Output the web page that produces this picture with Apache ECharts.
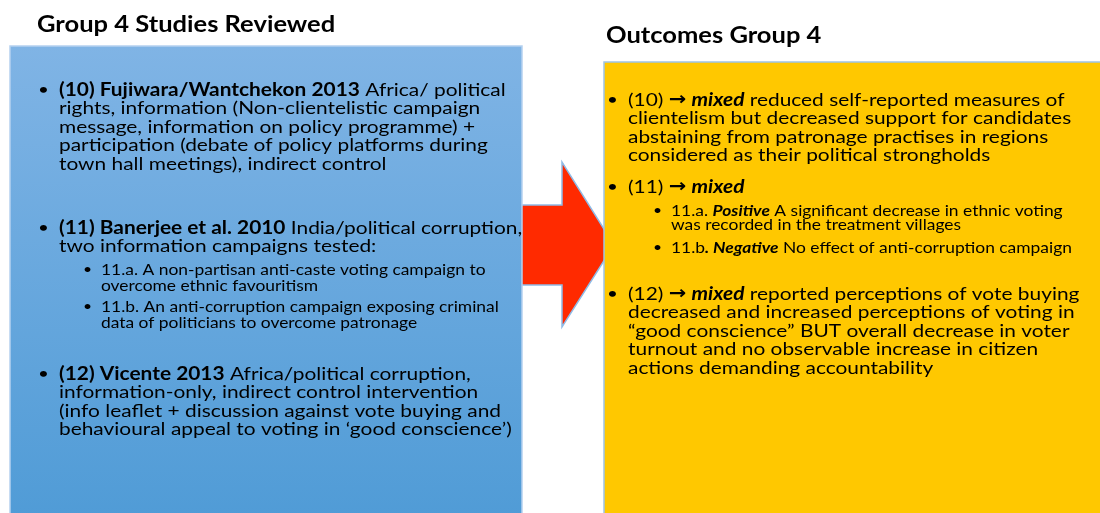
<!DOCTYPE html>
<html><head><meta charset="utf-8">
<script src="https://cdn.jsdelivr.net/npm/echarts@6/dist/echarts.min.js"></script>
<style>html,body{margin:0;padding:0;background:#fff}#c{width:1100px;height:513px}</style>
</head><body><div id="c"></div>
<script>
const leftTitle = 'Group 4 Studies Reviewed';
const rightTitle = 'Outcomes Group 4';
const study10 = ['{b|(10) Fujiwara/Wantchekon 2013} Africa/ political', 'rights, information (Non-clientelistic campaign', 'message, information on policy programme) +', 'participation (debate of policy platforms during', 'town hall meetings), indirect control'];
const study11 = ['{b|(11) Banerjee et al. 2010} India/political corruption,', 'two information campaigns tested:'];
const study11a = ['11.a. A non-partisan anti-caste voting campaign to', 'overcome ethnic favouritism'];
const study11b = ['11.b. An anti-corruption campaign exposing criminal', 'data of politicians to overcome patronage'];
const study12 = ['{b|(12) Vicente 2013} Africa/political corruption,', 'information-only, indirect control intervention', '(info leaflet + discussion against vote buying and', 'behavioural appeal to voting in \u2018good conscience\u2019)'];
const outcome10 = ['(10) {a|\u2192} {bi|mixed} reduced self-reported measures of', 'clientelism but decreased support for candidates', 'abstaining from patronage practises in regions', 'considered as their political strongholds'];
const outcome11 = ['(11) {a|\u2192} {bi|mixed}'];
const outcome11a = ['11.a. {bi|Positive} A significant decrease in ethnic voting', 'was recorded in the treatment villages'];
const outcome11b = ['11.b{bi|. Negative} No effect of anti-corruption campaign'];
const outcome12 = ['(12) {a|\u2192} {bi|mixed} reported perceptions of vote buying', 'decreased and increased perceptions of voting in', '\u201cgood conscience\u201d BUT overall decrease in voter', 'turnout and no observable increase in citizen', 'actions demanding accountability'];

const FF = 'Lato, "Open Sans", sans-serif';
const SX = 1.16;
function rich(fs){
  return {
    b:{fontFamily:FF,fontSize:fs,fontWeight:'bold',fill:'#000'},
    bi:{fontFamily:FF,fontSize:fs,fontWeight:'bold',fontStyle:'italic',fill:'#000'},
    a:{fontFamily:'"DejaVu Sans"',fontSize:fs*1.0,fontWeight:'bold',fill:'#000'}
  };
}
const els = [];
function txt(text, x, y, fs, extra){
  els.push({type:'text',z:10,x:x,y:y,scaleX:SX,style:Object.assign({text:text,x:0,y:0,fontFamily:FF,fontSize:fs,fill:'#000',verticalAlign:'middle',rich:rich(fs)},extra||{})});
}
function block(lines, bx, tx, y0, step, fs){
  txt('\u2022', bx, y0, fs*0.9);
  lines.forEach((ln,i)=>txt(ln, tx, y0+i*step, fs));
}
// arrow (behind boxes)
els.push({type:'polygon',z:1,shape:{points:[[515,205],[562,205],[562,162],[614,245],[562,327],[562,285],[515,285]]},style:{fill:'#ff2a00',stroke:'#8fbbe6',lineWidth:1.5}});
// blue box
els.push({type:'rect',z:2,shape:{x:10,y:46,width:512,height:480},style:{fill:{type:'linear',x:0,y:0,x2:0,y2:1,colorStops:[{offset:0,color:'#80b4e5'},{offset:1,color:'#4f9bd6'}]},stroke:'#b5d1ef',lineWidth:1.5}});
// yellow box
els.push({type:'rect',z:2,shape:{x:604,y:62,width:510,height:470},style:{fill:'#ffc800',stroke:'#9fc4e6',lineWidth:1.5}});
// titles
txt(leftTitle, 37, 25, 22, {fontWeight:'bold'});
txt(rightTitle, 606, 36, 22, {fontWeight:'bold'});
// left
block(study10, 38, 59, 90, 18.5, 18);
block(study11, 38, 59, 228, 18.5, 18);
block(study11a, 83, 101, 270, 16, 15);
block(study11b, 83, 101, 307, 16, 15);
block(study12, 38, 59, 374, 18.5, 18);
// right
block(outcome10, 607, 628, 100, 18.5, 18);
block(outcome11, 607, 628, 187, 18.5, 18);
block(outcome11a, 653, 671, 211, 14, 15);
block(outcome11b, 653, 671, 248, 14, 15);
block(outcome12, 607, 628, 294, 18.5, 18);

const chart = echarts.init(document.getElementById('c'), null, {renderer:'canvas'});
chart.setOption({animation:false, graphic:{elements:els}});
</script></body></html>
